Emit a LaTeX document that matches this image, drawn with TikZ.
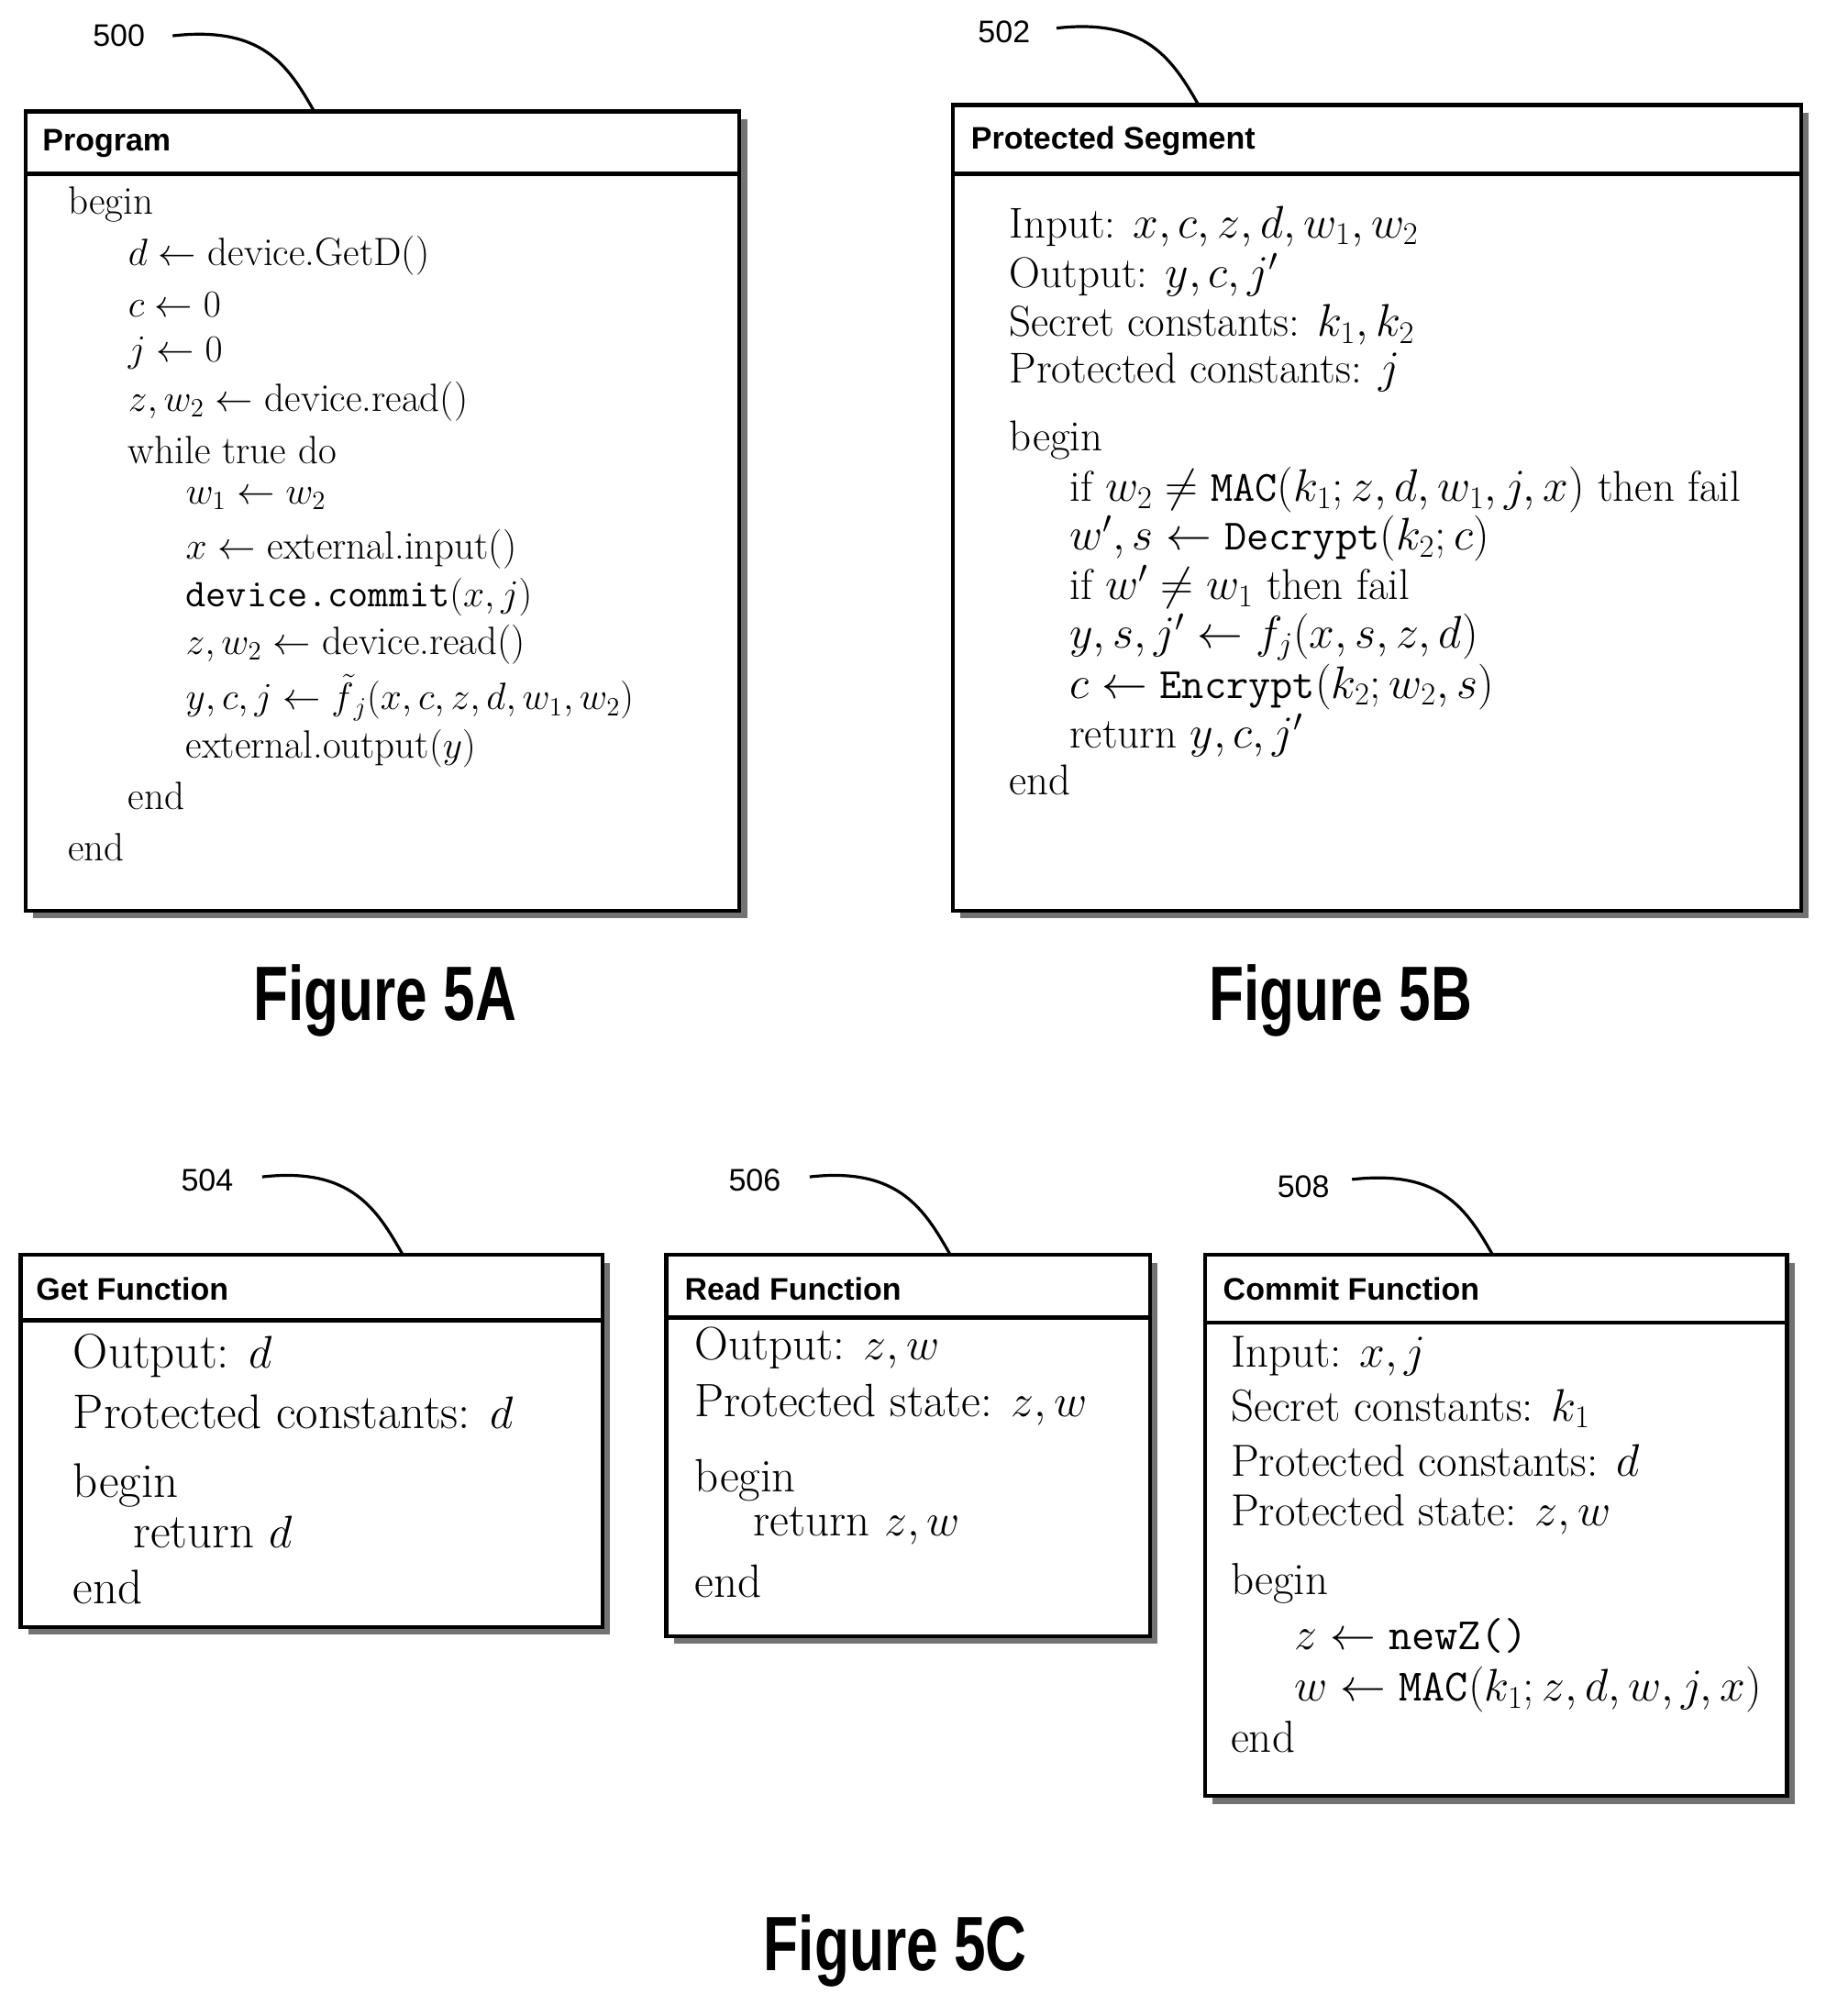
\documentclass[tikz,border=0pt]{standalone}
\usetikzlibrary{calc}
\usepackage{amsmath,amssymb}
\usepackage{fontspec}
\setsansfont{Liberation Sans}
\begin{document}
\begin{tikzpicture}[x=0.6975pt,y=-0.6975pt,
  box/.style={draw,line width=2.2pt,fill=white},
  shadow/.style={fill=black!55},
  hd/.style={anchor=west,inner sep=0,font=\sffamily\bfseries\fontsize{17}{20}\selectfont},
  ln/.style={anchor=west,inner sep=0,font=\fontsize{21.5}{24}\selectfont},
  lnb/.style={anchor=west,inner sep=0,font=\fontsize{23.5}{26}\selectfont},
  lng/.style={anchor=west,inner sep=0,font=\fontsize{26.5}{30}\selectfont},
  lnr/.style={anchor=west,inner sep=0,font=\fontsize{25.5}{30}\selectfont},
  lnc/.style={anchor=west,inner sep=0,font=\fontsize{24.5}{28}\selectfont},
  num/.style={inner sep=0,font=\sffamily\fontsize{17}{20}\selectfont},
  fig/.style={inner sep=0,font=\sffamily\bfseries\fontsize{42}{48}\selectfont},
  lead/.style={line width=1.6pt}]
\useasboundingbox (0,0) rectangle (1436,1576);
% shadows
\fill[shadow] (26,93) rectangle (584,718);
\fill[shadow] (751,88) rectangle (1414,718);
\fill[shadow] (22,987) rectangle (477,1278);
\fill[shadow] (527,987) rectangle (905,1285);
\fill[shadow] (948,987) rectangle (1403,1410);
% boxes
\draw[box] (20,87) rectangle (578,712); \draw[line width=2.2pt] (20,136)--(578,136);
\draw[box] (745,82) rectangle (1408,712); \draw[line width=2.2pt] (745,136)--(1408,136);
\draw[box] (16,981) rectangle (471,1272); \draw[line width=2.2pt] (16,1032)--(471,1032);
\draw[box] (521,981) rectangle (899,1279); \draw[line width=2.2pt] (521,1030)--(899,1030);
\draw[box] (942,981) rectangle (1397,1404); \draw[line width=2.2pt] (942,1034)--(1397,1034);
% reference numerals
\node[num] (n500) at (93,28) {500};
\node[num] (n502) at (785,25) {502};
\node[num] (n504) at (162,923) {504};
\node[num] (n506) at (590,923) {506};
\node[num] (n508) at (1019,928) {508};
\coordinate (a500) at (135,28); \coordinate (b500) at (245,86);
\coordinate (a502) at (826,22); \coordinate (b502) at (937,82);
\coordinate (a504) at (205,920); \coordinate (b504) at (315,981);
\coordinate (a506) at (633,920); \coordinate (b506) at (743,981);
\coordinate (a508) at (1057,922); \coordinate (b508) at (1167,981);
\foreach \n in {500,502,504,506,508}{
  \draw[lead] (a\n) .. controls ($(a\n)+(70,-8)$) and ($(b\n)+(-20,-35)$) .. (b\n);}
% headers
\node[hd] (hA) at (33,112) {Program};
\node[hd] (hB) at (759,110) {Protected Segment};
\node[hd] (h4) at (28,1008) {Get Function};
\node[hd] (h6) at (535,1008) {Read Function};
\node[hd] (h8) at (956,1008) {Commit Function};
% Program
\node[ln] (p1) at (53,160) {begin};
\node[ln] (p2) at (100,200) {$d\leftarrow$ device.GetD()};
\node[ln] (p3) at (100,238) {$c\leftarrow 0$};
\node[ln] (p4) at (100,276) {$j\leftarrow 0$};
\node[ln] (p5) at (100,314) {$z,w_2\leftarrow$ device.read()};
\node[ln] (p6) at (100,352) {while true do};
\node[ln] (p7) at (145,390) {$w_1\leftarrow w_2$};
\node[ln] (p8) at (145,429) {$x\leftarrow$ external.input()};
\node[ln] (p9) at (145,467) {\texttt{device.commit}$(x,j)$};
\node[ln] (p10) at (145,504) {$z,w_2\leftarrow$ device.read()};
\node[ln] (p11) at (145,548) {$y,c,j\leftarrow \smash{\tilde{f}}_j(x,c,z,d,w_1,w_2)$};
\node[ln] (p12) at (145,585) {external.output$(y)$};
\node[ln] (p13) at (100,622) {end};
\node[ln] (p14) at (53,662) {end};
% Protected segment
\node[lnb] (s1) at (789,177) {Input: $x,c,z,d,w_1,w_2$};
\node[lnb] (s2) at (789,215) {Output: $y,c,j'$};
\node[lnb] (s3) at (789,254) {Secret constants: $k_1,k_2$};
\node[lnb] (s4) at (789,291) {Protected constants: $j$};
\node[lnb] (s5) at (789,344) {begin};
\node[lnb] (s6) at (836,383) {if $w_2\neq \texttt{MAC}(k_1;z,d,w_1,j,x)$ then fail};
\node[lnb] (s7) at (836,421) {$w',s\leftarrow \texttt{Decrypt}(k_2;c)$};
\node[lnb] (s8) at (836,459) {if $w'\neq w_1$ then fail};
\node[lnb] (s9) at (836,498) {$y,s,j'\leftarrow f_j(x,s,z,d)$};
\node[lnb] (s10) at (836,537) {$c\leftarrow \texttt{Encrypt}(k_2;w_2,s)$};
\node[lnb] (s11) at (836,575) {return $y,c,j'$};
\node[lnb] (s12) at (789,610) {end};
% Get
\node[lng] (g1) at (57,1060) {Output: $d$};
\node[lng] (g2) at (57,1104) {Protected constants: $d$};
\node[lng] (g3) at (57,1161) {begin};
\node[lng] (g4) at (104,1198) {return $d$};
\node[lng] (g5) at (57,1241) {end};
% Read
\node[lnr] (r1) at (543,1054) {Output: $z,w$};
\node[lnr] (r2) at (543,1098) {Protected state: $z,w$};
\node[lnr] (r3) at (543,1157) {begin};
\node[lnr] (r4) at (589,1193) {return $z,w$};
\node[lnr] (r5) at (543,1236) {end};
% Commit
\node[lnc] (c1) at (962,1060) {Input: $x,j$};
\node[lnc] (c2) at (962,1101) {Secret constants: $k_1$};
\node[lnc] (c3) at (962,1142) {Protected constants: $d$};
\node[lnc] (c4) at (962,1184) {Protected state: $z,w$};
\node[lnc] (c5) at (962,1238) {begin};
\node[lnc] (c6) at (1012,1279) {$z\leftarrow \texttt{newZ()}$};
\node[lnc] (c7) at (1012,1321) {$w\leftarrow \texttt{MAC}(k_1;z,d,w,j,x)$};
\node[lnc] (c8) at (962,1358) {end};
% figure labels
\node[fig,xscale=0.74] (fA) at (301,782) {Figure 5A};
\node[fig,xscale=0.74] (fB) at (1048,782) {Figure 5B};
\node[fig,xscale=0.74] (fC) at (700,1525) {Figure 5C};
\end{tikzpicture}
\end{document}
